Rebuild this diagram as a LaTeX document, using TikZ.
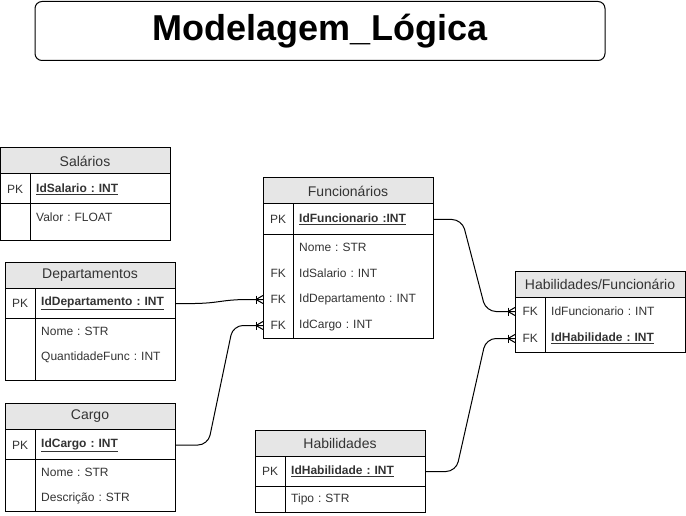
\documentclass[tikz,border=0pt]{standalone}
\usepackage{fontspec}
\setmainfont{Liberation Sans}
\usetikzlibrary{calc}
\definecolor{hdrgray}{HTML}{E6E6E6}
\definecolor{txtgray}{HTML}{333333}
\frenchspacing
\tikzset{
  keycell/.style={minimum width=30pt,minimum height=26pt,inner sep=0pt,anchor=west,
    font=\fontsize{12}{14}\selectfont,text=txtgray},
  fieldcell/.style={minimum height=26pt,inner xsep=6pt,inner ysep=0pt,anchor=west,
    text width=128pt,align=left,font=\fontsize{12}{14}\selectfont,text=txtgray},
  pkcell/.style={fieldcell,font=\fontsize{12}{14}\selectfont\bfseries},
  hdrtext/.style={font=\fontsize{14}{16}\selectfont,text=txtgray,inner sep=0pt},
  tablebox/.style={line width=1pt},
  link/.style={line width=1pt,rounded corners=10pt}
}

\begin{document}
\begin{tikzpicture}[x=1pt,y=-1pt]
    \useasboundingbox (0,0) rectangle (686,516);
    % title
    \node[draw,line width=1pt,rounded corners=7pt,minimum width=570pt,minimum height=59pt,
      font=\fontsize{36}{40}\selectfont\bfseries] (title) at (320,31) {Modelagem\_Lógica};
    % Salarios
    \draw[tablebox,fill=hdrgray] (0,148) rectangle (170,174);
    \draw[tablebox] (0,174) rectangle (170,240);
    \draw[tablebox] (30,174) -- (30,240);
    \draw[tablebox] (0,204) -- (170,204);
    \node[hdrtext] (sal) at (85,161.5) {Salários};
    \node[keycell] (spkk) at (0,189.5) {PK};
    \node[pkcell] (spk) at (30,189.5) {\underline{IdSalario : INT}};
    \node[fieldcell] (sval) at (30,217.5) {Valor : FLOAT};
    % Departamentos
    \draw[tablebox,fill=hdrgray] (5,262) rectangle (175,288);
    \draw[tablebox] (5,288) rectangle (175,380);
    \draw[tablebox] (35,288) -- (35,380);
    \draw[tablebox] (5,318) -- (175,318);
    \node[hdrtext] (dep) at (90,275.5) {Departamentos};
    \node[keycell] (dpkk) at (5,303.5) {PK};
    \node[pkcell] (dpk) at (35,303.5) {\underline{IdDepartamento : INT}};
    \node[fieldcell] (dnome) at (35,331.5) {Nome : STR};
    \node[fieldcell] (dqtd) at (35,357.5) {QuantidadeFunc : INT};
    % Cargo
    \draw[tablebox,fill=hdrgray] (5,403) rectangle (175,429);
    \draw[tablebox] (5,429) rectangle (175,511);
    \draw[tablebox] (35,429) -- (35,511);
    \draw[tablebox] (5,459) -- (175,459);
    \node[hdrtext] (car) at (90,416.5) {Cargo};
    \node[keycell] (cpkk) at (5,445) {PK};
    \node[pkcell] (cpk) at (35,445) {\underline{IdCargo : INT}};
    \node[fieldcell] (cnome) at (35,472.5) {Nome : STR};
    \node[fieldcell] (cdesc) at (35,498.5) {Descrição : STR};
    % Funcionarios
    \draw[tablebox,fill=hdrgray] (263,178) rectangle (433,204);
    \draw[tablebox] (263,204) rectangle (433,338);
    \draw[tablebox] (293,204) -- (293,338);
    \draw[tablebox] (263,234) -- (433,234);
    \node[hdrtext] (fun) at (348,191.5) {Funcionários};
    \node[keycell] (fpkk) at (263,219.5) {PK};
    \node[pkcell] (fpk) at (293,219.5) {\underline{IdFuncionario :INT}};
    \node[fieldcell] (fnome) at (293,247.5) {Nome : STR};
    \node[keycell] (fsalk) at (263,273.5) {FK};
    \node[fieldcell] (fsal) at (293,273.5) {IdSalario : INT};
    \node[keycell] (fdepk) at (263,299.5) {FK};
    \node[fieldcell] (fdep) at (293,299.5) {IdDepartamento : INT};
    \node[keycell] (fcark) at (263,325.5) {FK};
    \node[fieldcell] (fcar) at (293,325.5) {IdCargo : INT};
    % Habilidades
    \draw[tablebox,fill=hdrgray] (255,430) rectangle (425,456);
    \draw[tablebox] (255,456) rectangle (425,512);
    \draw[tablebox] (285,456) -- (285,512);
    \draw[tablebox] (255,486) -- (425,486);
    \node[hdrtext] (hab) at (340,443.5) {Habilidades};
    \node[keycell] (hpkk) at (255,471.5) {PK};
    \node[pkcell] (hpk) at (285,471.5) {\underline{IdHabilidade : INT}};
    \node[fieldcell] (htipo) at (285,499.5) {Tipo : STR};
    % Habilidades/Funcionario
    \draw[tablebox,fill=hdrgray] (515,271) rectangle (685,297);
    \draw[tablebox] (515,297) rectangle (685,352);
    \draw[tablebox] (545,297) -- (545,352);
    \node[hdrtext] (hf) at (600,284.5) {Habilidades/Funcionário};
    \node[keycell] (hffk) at (515,311.5) {FK};
    \node[fieldcell] (hff) at (545,311.5) {IdFuncionario : INT};
    \node[keycell] (hfhk) at (515,338.5) {FK};
    \node[pkcell] (hfh) at (545,338.5) {\underline{IdHabilidade : INT}};
    % relations
    \draw[link] (fpk.east) -- (462,219.5) -- (486,311.5) -- (hffk.west);
    \draw[link] (dpk.east) -- (205,303.5) -- (235,299.5) -- (fdepk.west);
    \draw[link] (cpk.east) -- (208,445) -- (233,325.5) -- (fcark.west);
    \draw[link] (hpk.east) -- (456,471.5) -- (486,338.5) -- (hfhk.west);
    % crow's feet
    \foreach \n in {hffk,fdepk,fcark,hfhk} {
      \draw[line width=1pt] ($(\n.west)+(-7,-4)$) -- ++(0,8);
      \draw[line width=1pt] ($(\n.west)+(-7,0)$) -- ++(7,-4);
      \draw[line width=1pt] ($(\n.west)+(-7,0)$) -- ++(7,4);
    }
\end{tikzpicture}
\end{document}
